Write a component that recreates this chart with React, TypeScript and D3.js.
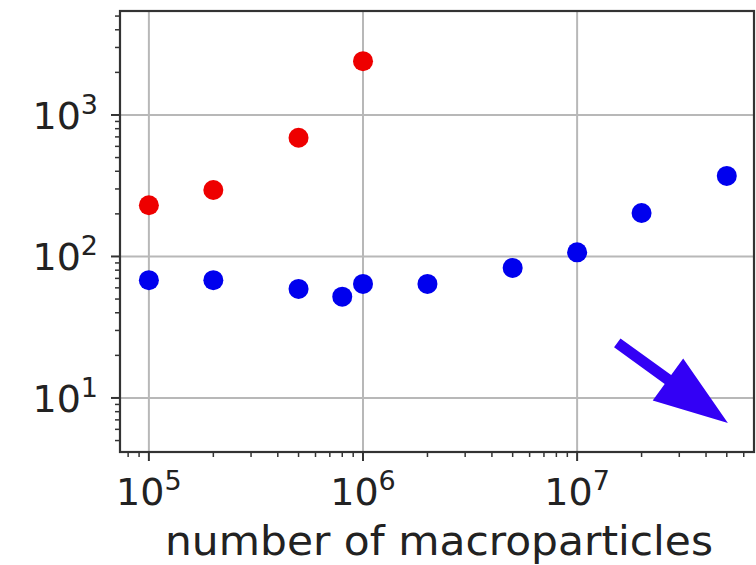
import React, { useEffect, useRef } from 'react';
import * as d3 from 'd3';

// red series
const redX = [1e5, 2e5, 5e5, 1e6];
const redY = [230, 295, 690, 2400];

// blue series
const blueX = [1e5, 2e5, 5e5, 8e5, 1e6, 2e6, 5e6, 1e7, 2e7, 5e7];
const blueY = [68, 68, 59, 52, 64, 64, 83, 107, 203, 371];

// tick exponents
const xTickExp = [5, 6, 7];
const yTickExp = [1, 2, 3];

// arrow annotation, in data units: [x, y]
const arrowFrom = [1.54e7, 24.5];
const arrowTo = [5.06e7, 6.66];

const xLabel = 'number of macroparticles';

const App = () => {
  const ref = useRef<SVGSVGElement>(null);

  useEffect(() => {
    const svg = d3.select(ref.current);
    svg.selectAll('*').remove();

    const left = 120, right = 754, top = 11, bottom = 452;
    const font = 'DejaVu Sans, sans-serif';

    const x = d3.scaleLog().domain([73300, 6.7e7]).range([left, right]);
    const y = d3.scaleLog().domain([4.15, 5430]).range([bottom, top]);

    svg.append('rect').attr('width', 756).attr('height', 565).attr('fill', '#fff');

    // grid
    const g = svg.append('g');
    xTickExp.forEach((e) => {
      g.append('line')
        .attr('x1', x(10 ** e)).attr('x2', x(10 ** e))
        .attr('y1', top).attr('y2', bottom)
        .attr('stroke', '#b8b8b8').attr('stroke-width', 2);
    });
    yTickExp.forEach((e) => {
      g.append('line')
        .attr('y1', y(10 ** e)).attr('y2', y(10 ** e))
        .attr('x1', left).attr('x2', right)
        .attr('stroke', '#b8b8b8').attr('stroke-width', 2);
    });

    // minor + major ticks
    const minor = (lo: number, hi: number) => {
      const out: number[] = [];
      for (let e = lo; e <= hi; e++) for (let m = 2; m <= 9; m++) out.push(m * 10 ** e);
      return out;
    };
    const [x0, x1] = x.domain();
    minor(4, 7).filter((v) => v >= x0 && v <= x1).forEach((v) => {
      g.append('line').attr('x1', x(v)).attr('x2', x(v)).attr('y1', bottom).attr('y2', bottom + 5)
        .attr('stroke', '#333').attr('stroke-width', 1.5);
    });
    const [y0, y1] = y.domain();
    minor(0, 3).filter((v) => v >= y0 && v <= y1).forEach((v) => {
      g.append('line').attr('y1', y(v)).attr('y2', y(v)).attr('x1', left).attr('x2', left - 5)
        .attr('stroke', '#333').attr('stroke-width', 1.5);
    });
    xTickExp.forEach((e) => {
      g.append('line').attr('x1', x(10 ** e)).attr('x2', x(10 ** e)).attr('y1', bottom).attr('y2', bottom + 9)
        .attr('stroke', '#333').attr('stroke-width', 2);
      const t = g.append('text').attr('x', x(10 ** e)).attr('y', 505)
        .attr('text-anchor', 'middle').attr('font-family', font).attr('font-size', 38).attr('fill', '#222');
      t.append('tspan').text('10');
      t.append('tspan').attr('dy', -15).attr('font-size', 27).text(String(e));
    });
    yTickExp.forEach((e) => {
      g.append('line').attr('y1', y(10 ** e)).attr('y2', y(10 ** e)).attr('x1', left).attr('x2', left - 9)
        .attr('stroke', '#333').attr('stroke-width', 2);
      const t = g.append('text').attr('x', 98).attr('y', y(10 ** e) + 14)
        .attr('text-anchor', 'end').attr('font-family', font).attr('font-size', 38).attr('fill', '#222');
      t.append('tspan').text('10');
      t.append('tspan').attr('dy', -15).attr('font-size', 27).text(String(e));
    });

    // frame
    g.append('rect').attr('x', left).attr('y', top).attr('width', right - left).attr('height', bottom - top)
      .attr('fill', 'none').attr('stroke', '#333').attr('stroke-width', 2.2);

    // points
    const dots = (xs: number[], ys: number[], color: string) => {
      g.selectAll(null).data(xs).enter().append('circle')
        .attr('cx', (d) => x(d)).attr('cy', (_d, i) => y(ys[i]))
        .attr('r', 10).attr('fill', color);
    };
    dots(redX, redY, '#ee0000');
    dots(blueX, blueY, '#0000ee');

    // arrow
    const sx = x(arrowFrom[0]), sy = y(arrowFrom[1]);
    const tx = x(arrowTo[0]), ty = y(arrowTo[1]);
    const len = Math.hypot(tx - sx, ty - sy);
    const ux = (tx - sx) / len, uy = (ty - sy) / len;
    const nx = -uy, ny = ux;
    const headLen = 74, headW = 26, shaftW = 5.5;
    const bx = tx - ux * headLen, by = ty - uy * headLen;
    const pts = [
      [sx + nx * shaftW, sy + ny * shaftW],
      [bx + nx * shaftW, by + ny * shaftW],
      [bx + nx * headW, by + ny * headW],
      [tx, ty],
      [bx - nx * headW, by - ny * headW],
      [bx - nx * shaftW, by - ny * shaftW],
      [sx - nx * shaftW, sy - ny * shaftW],
    ];
    g.append('polygon').attr('points', pts.map((p) => p.join(',')).join(' ')).attr('fill', '#3300f5');

    // x label
    g.append('text').attr('x', 165).attr('y', 555)
      .attr('font-family', font).attr('font-size', 41).attr('fill', '#222')
      .attr('textLength', 548).attr('lengthAdjust', 'spacingAndGlyphs')
      .text(xLabel);
  }, []);

  return (
    <svg ref={ref} width={756} height={565} style={{ position: 'absolute', left: 0, top: 0 }}></svg>
  );
};

export default App;
